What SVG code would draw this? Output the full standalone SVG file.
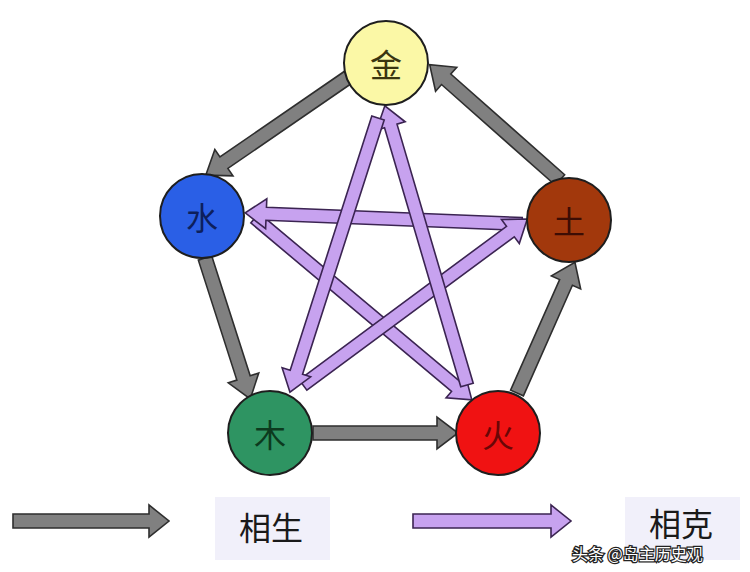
<svg xmlns="http://www.w3.org/2000/svg" width="750" height="572" viewBox="0 0 750 572">
<style>
.g{fill:#808080;stroke:#2e2e2e;stroke-width:1.6;stroke-linejoin:miter}
.p{fill:#c7a2ef;stroke:#3b2452;stroke-width:1.6;stroke-linejoin:miter}
.c{stroke:#1e1e1e;stroke-width:2}
.t{font-family:"Noto Sans CJK SC","Noto Sans CJK JP",sans-serif;font-size:32px;text-anchor:middle;dominant-baseline:central}
.lb{font-family:"Noto Sans CJK SC",sans-serif;font-size:32px;fill:#1a1a1a;text-anchor:middle;dominant-baseline:central}
</style>
<rect width="750" height="572" fill="#ffffff"/>
<g id="connectors">
<!-- generating (gray) -->
<path class="g" transform="translate(350,76) rotate(145.5)" d="M0,-7 H153 V-16 L175,0 L153,16 V7 H0 Z"/>
<path class="g" transform="translate(205,258) rotate(72.2)" d="M0,-7 H126 V-16 L148,0 L126,16 V7 H0 Z"/>
<path class="g" transform="translate(313,433) rotate(0)" d="M0,-7 H124 V-16 L145,0 L124,16 V7 H0 Z"/>
<path class="g" transform="translate(517,393) rotate(-66.1)" d="M0,-7 H121 V-16 L143,0 L121,16 V7 H0 Z"/>
<path class="g" transform="translate(560,180) rotate(-138.5)" d="M0,-7 H152 V-16 L174,0 L152,16 V7 H0 Z"/>
<!-- overcoming (purple) -->
<path class="p" transform="translate(255,218) rotate(40)" d="M0,-6.5 H262 V-15 L283,0 L262,15 V6.5 H0 Z"/>
<path class="p" transform="translate(522,224) rotate(-177.7)" d="M0,-6.5 H256 V-15 L277,0 L256,15 V6.5 H0 Z"/>
<path class="p" transform="translate(303,385) rotate(-36.5)" d="M0,-6.5 H258 V-15 L279,0 L258,15 V6.5 H0 Z"/>
<path class="p" transform="translate(467,385) rotate(-106.4)" d="M0,-6.5 H270 V-15 L291,0 L270,15 V6.5 H0 Z"/>
<path class="p" transform="translate(378,118) rotate(107.8)" d="M0,-6.5 H267 V-15 L288,0 L267,15 V6.5 H0 Z"/>
</g>
<g id="metal"><circle class="c" cx="386" cy="63" r="42" fill="#fbf8a6"/><text class="t" x="386" y="63" fill="#3a3510">金</text></g>
<g id="water"><circle class="c" cx="202" cy="216" r="42" fill="#2a5fe6"/><text class="t" x="202" y="216" fill="#0d1f5c">水</text></g>
<g id="earth"><circle class="c" cx="569" cy="220" r="42" fill="#a2380c"/><text class="t" x="569" y="220" fill="#3d0d04">土</text></g>
<g id="wood"><circle class="c" cx="270" cy="433" r="42" fill="#2e9462"/><text class="t" x="270" y="433" fill="#0c3a1e">木</text></g>
<g id="fire"><circle class="c" cx="498" cy="433" r="42" fill="#f01212"/><text class="t" x="498" y="433" fill="#6a0606">火</text></g>
<g id="legend-generating">
<path class="g" transform="translate(13,521)" d="M0,-7 H136 V-16 L156,0 L136,16 V7 H0 Z"/>
<rect x="215" y="497" width="115" height="63" fill="#f1f0fa"/>
<text class="lb" x="271" y="526">相生</text>
</g>
<g id="legend-overcoming">
<path class="p" transform="translate(413,521)" d="M0,-7 H138 V-16 L158,0 L138,16 V7 H0 Z"/>
<rect x="625" y="497" width="115" height="63" fill="#f1f0fa"/>
<text class="lb" x="681" y="522">相克</text>
</g>
<text x="572" y="560" font-family="Noto Sans CJK SC,sans-serif" font-size="16" fill="#ffffff" stroke="#222" stroke-width="2.5" paint-order="stroke">头条 @岛主历史观</text>
</svg>
